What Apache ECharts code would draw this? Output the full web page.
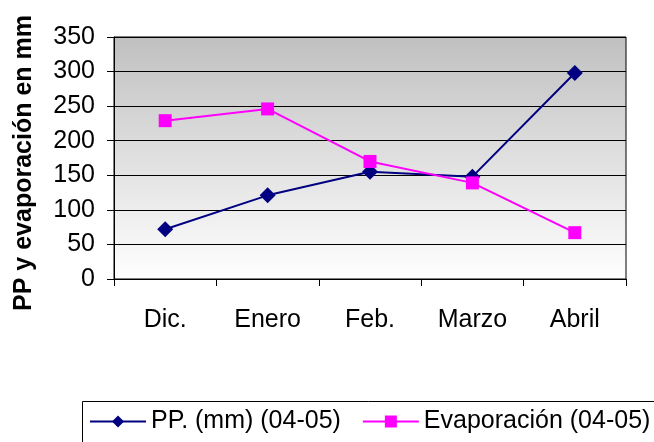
<!DOCTYPE html>
<html>
<head>
<meta charset="utf-8">
<script src="https://cdn.jsdelivr.net/npm/echarts@6/dist/echarts.min.js"></script>
<style>html,body{margin:0;padding:0;background:#fff}#c{width:654px;height:442px}</style>
</head>
<body>
<div id="c"></div>
<script>
const categories = ['Dic.', 'Enero', 'Feb.', 'Marzo', 'Abril'];
const ppValues = [72, 121, 155, 148, 298];
const evapValues = [229, 246, 170, 139, 67];
const seriesNames = ['PP. (mm) (04-05)', 'Evaporación (04-05)'];
const yTitle = 'PP y evaporación en mm';
const yMin = 0, yMax = 350, yStep = 50;

const font = '"Liberation Sans", Arial, sans-serif';
const chart = echarts.init(document.getElementById('c'), null, {renderer: 'canvas'});
chart.setOption({
  animation: false,
  backgroundColor: '#fff',
  grid: {
    left: 114, right: 28, top: 37, bottom: 163,
    outerBoundsMode: 'none',
    containLabel: false,
    show: true,
    borderColor: '#000', borderWidth: 1,
    backgroundColor: {
      type: 'linear', x: 0, y: 0, x2: 0, y2: 1,
      colorStops: [{offset: 0, color: '#c0c0c0'}, {offset: 1, color: '#ffffff'}]
    }
  },
  xAxis: {
    type: 'category',
    data: categories,
    boundaryGap: true,
    axisLine: {lineStyle: {color: '#000', width: 1}},
    axisTick: {show: true, length: 7, lineStyle: {color: '#000'}},
    axisLabel: {color: '#000', fontSize: 25, fontFamily: font, margin: 29}
  },
  yAxis: {
    type: 'value',
    min: yMin, max: yMax, interval: yStep,
    name: yTitle,
    nameLocation: 'middle',
    nameGap: 77,
    nameRotate: 90,
    nameTextStyle: {color: '#000', fontSize: 25, fontWeight: 'bold', fontFamily: font, padding: [0, 10, 0, 0]},
    axisLine: {show: true, lineStyle: {color: '#000', width: 1}},
    axisTick: {show: true, length: 7, lineStyle: {color: '#000'}},
    axisLabel: {color: '#000', fontSize: 25, fontFamily: font, margin: 19},
    splitLine: {show: true, lineStyle: {color: '#000', width: 1}}
  },
  legend: {
    left: 84, top: 404, width: 640,
    itemWidth: 56, itemHeight: 15, itemGap: 21,
    textStyle: {color: '#000', fontSize: 25, fontFamily: font},
    data: seriesNames
  },
  graphic: [{
    type: 'rect', left: 80, top: 399, z: 100,
    shape: {width: 600, height: 80},
    style: {fill: 'none', stroke: '#000', lineWidth: 1}
  }],
  series: [
    {
      name: seriesNames[0], type: 'line', data: ppValues,
      symbol: 'diamond', symbolSize: 16,
      itemStyle: {color: '#000080'},
      lineStyle: {color: '#000080', width: 2}
    },
    {
      name: seriesNames[1], type: 'line', data: evapValues,
      symbol: 'rect', symbolSize: 13,
      itemStyle: {color: '#ff00ff'},
      lineStyle: {color: '#ff00ff', width: 2}
    }
  ]
});
</script>
</body>
</html>
